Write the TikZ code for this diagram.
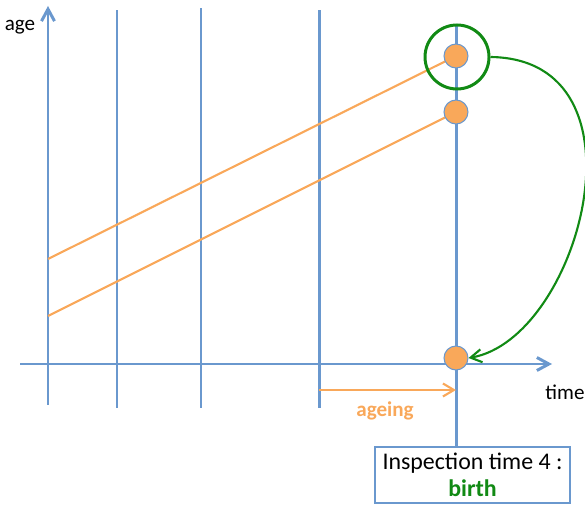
\documentclass[tikz,border=0pt]{standalone}
\usepackage{fontspec}
\setmainfont{Carlito}
\usetikzlibrary{arrows.meta,positioning,calc}
\definecolor{gridblue}{HTML}{6A98CE}
\definecolor{ageorange}{HTML}{F9A85A}
\definecolor{birthgreen}{HTML}{118A14}
\tikzset{
  gridline/.style={draw=gridblue, line width=1.7pt},
  axisarr/.style={gridline, -{Straight Barb[length=2.4mm,width=2.6mm]}},
  cohort/.style={draw=ageorange, line width=1.2pt},
  agearr/.style={cohort, -{Straight Barb[length=2.2mm,width=2.6mm]}},
  indiv/.style={circle, fill=ageorange, draw=gridblue, line width=0.6pt,
    minimum size=0.48cm, inner sep=0pt},
  ring/.style={circle, draw=birthgreen, line width=1.7pt, minimum size=1.28cm, inner sep=0pt},
  jumparr/.style={draw=birthgreen, line width=1.2pt, -{Straight Barb[length=2.2mm,width=2.6mm]}},
  infobox/.style={draw=gridblue, line width=0.7pt, fill=white, align=center,
    minimum width=3.9cm, minimum height=1.12cm, font=\fontsize{13.6}{15.5}\selectfont},
  lbl/.style={font=\fontsize{12}{14}\selectfont}
}
\begin{document}
\begin{tikzpicture}[x=1cm,y=1cm]
  \useasboundingbox (0,0) rectangle (11.7,10.08);
  % axes
  \coordinate (ybot) at (0.96,1.98);
  \coordinate (ytop) at (0.96,9.96);
  \coordinate (xleft) at (0.4,2.8);
  \coordinate (xright) at (11.04,2.8);
  \draw[axisarr] (ybot) -- (ytop);
  \draw[axisarr] (xleft) -- (xright);
  \node[lbl] (agelbl) at (0.4,9.54) {age};
  \node[lbl] (timelbl) at (11.3,2.24) {time};
  % inspection times
  \foreach \x/\t in {2.34/9.88,4.02/9.92,6.38/9.88} {
    \draw[gridline] (\x,1.92) -- (\x,\t);
  }
  \node[infobox] (inspect) at (9.45,0.58) {Inspection time 4 :\\ \textbf{\textcolor{birthgreen}{birth}}};
  \coordinate (ttop) at (9.12,9.58);
  \draw[gridline] (ttop) -- (inspect.north -| ttop);
  % cohorts
  \coordinate (start1) at (0.96,4.9);
  \coordinate (start2) at (0.96,3.76);
  \draw[cohort] (start1) -- (9.12,8.96);
  \draw[cohort] (start2) -- (9.12,7.84);
  \node[indiv] (old) at (9.12,8.96) {};
  \node[indiv] (young) at (9.12,7.84) {};
  \node[indiv] (newborn) at (9.12,2.92) {};
  \node[ring] (oldring) at (9.14,8.94) {};
  \draw[jumparr] (oldring.east) .. controls (13.1,8.9) and (11.6,3.3) .. (newborn.east);
  % ageing
  \coordinate (agestart) at (6.38,2.28);
  \coordinate (ageend) at (9.12,2.28);
  \draw[agearr] (agestart) -- (ageend);
  \node[font=\fontsize{12}{14}\selectfont\bfseries, text=ageorange] (agelabel) at (7.7,1.86) {ageing};
\end{tikzpicture}
\end{document}
